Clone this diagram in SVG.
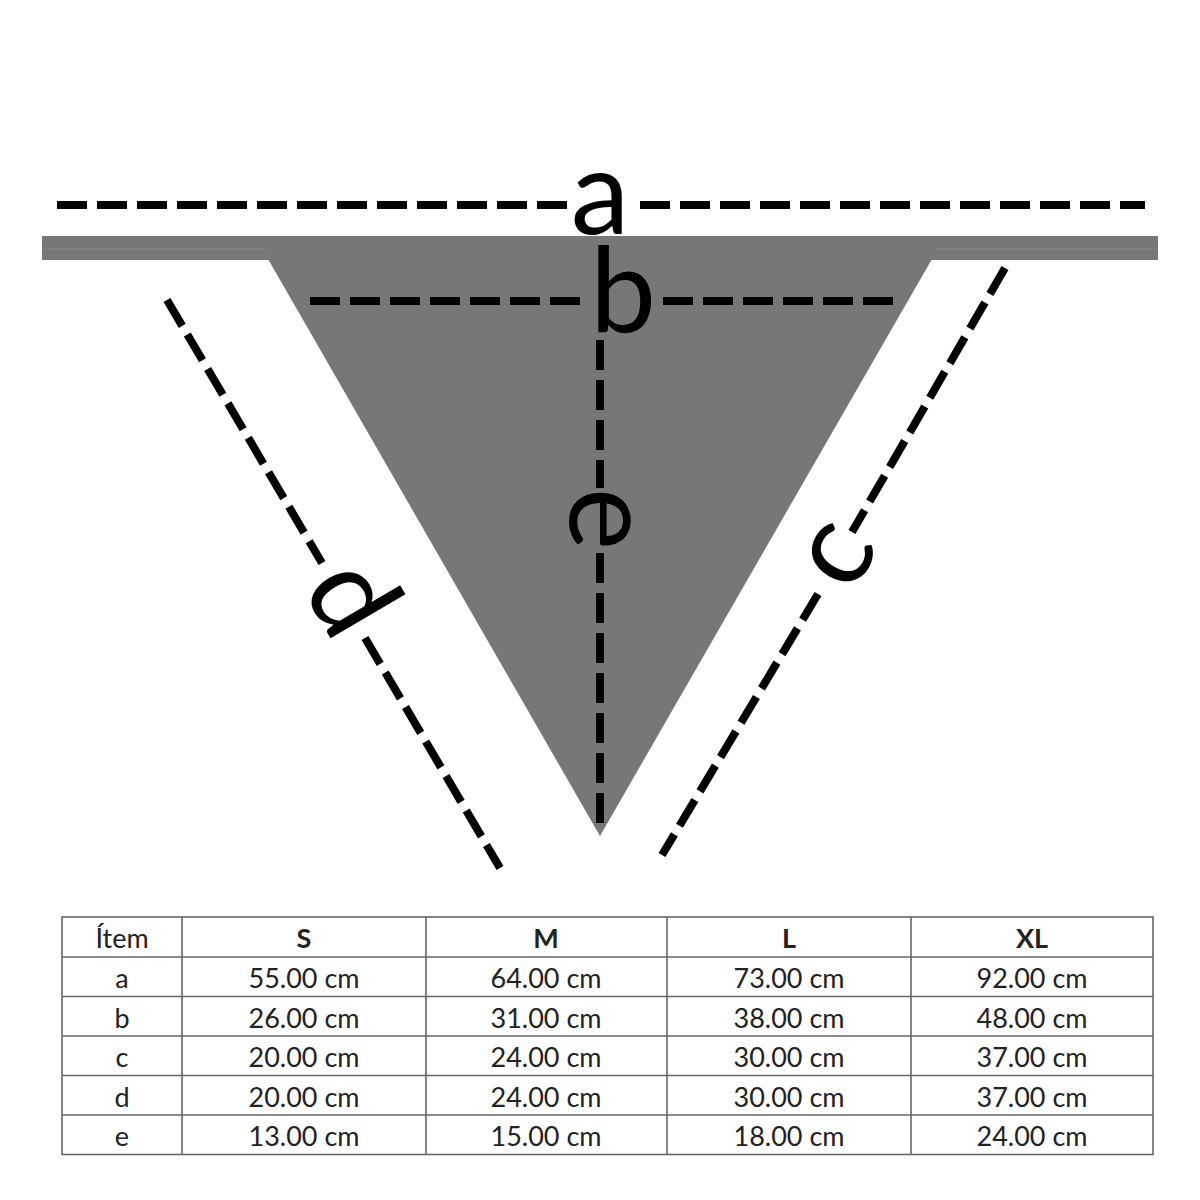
<svg xmlns="http://www.w3.org/2000/svg" width="1200" height="1200" viewBox="0 0 1200 1200">
<style>
.dash{stroke:#000;stroke-width:8;stroke-dasharray:30 10;fill:none}
.lbl{font-family:Lato,"Open Sans","DejaVu Sans",sans-serif;font-size:118px;fill:#000;text-anchor:middle}
.cell{font-family:Lato,"Open Sans","DejaVu Sans",sans-serif;font-size:27px;fill:#222;text-anchor:middle}
.hd{font-weight:bold}
.grid{stroke:#666;stroke-width:1.6;fill:none}
</style>
<rect width="1200" height="1200" fill="#fff"/>
<g id="garment">
<rect x="42" y="236" width="1116" height="24" fill="#777"/>
<polygon points="268,259 932,259 600,836" fill="#777"/>
<line x1="42" y1="249" x2="266" y2="249" stroke="#8a8a8a" stroke-width="1"/>
<line x1="936" y1="249" x2="1158" y2="249" stroke="#8a8a8a" stroke-width="1"/>
</g>
<g id="connectors">
<line class="dash" x1="57" y1="205" x2="567" y2="205"/>
<line class="dash" x1="640" y1="205" x2="1145" y2="205"/>
<line class="dash" x1="310" y1="301" x2="580" y2="301"/>
<line class="dash" x1="663" y1="301" x2="893" y2="301"/>
<line class="dash" x1="600" y1="340" x2="600" y2="488"/>
<line class="dash" x1="600" y1="553" x2="600" y2="830"/>
<line class="dash" x1="167" y1="300" x2="322" y2="563"/>
<line class="dash" x1="365" y1="638" x2="500" y2="868"/>
<line class="dash" x1="1005" y1="268" x2="852" y2="532"/>
<line class="dash" x1="818" y1="594" x2="662" y2="855"/>
</g>
<g id="label-a"><text class="lbl" x="600" y="234">a</text></g>
<g id="label-b"><text class="lbl" x="623" y="332">b</text></g>
<g id="label-e"><text class="lbl" transform="translate(570,519) rotate(90)">e</text></g>
<g id="label-d"><text class="lbl" transform="translate(318,617) rotate(59.56)">d</text></g>
<g id="label-c"><text class="lbl" transform="translate(866,571) rotate(-59.7)">c</text></g>
<g id="table">
<rect class="grid" x="62" y="917" width="1091" height="237.5"/>
<line class="grid" x1="62" y1="957" x2="1153" y2="957"/>
<line class="grid" x1="62" y1="996.5" x2="1153" y2="996.5"/>
<line class="grid" x1="62" y1="1036" x2="1153" y2="1036"/>
<line class="grid" x1="62" y1="1075.5" x2="1153" y2="1075.5"/>
<line class="grid" x1="62" y1="1115" x2="1153" y2="1115"/>
<line class="grid" x1="182" y1="917" x2="182" y2="1154.5"/>
<line class="grid" x1="426" y1="917" x2="426" y2="1154.5"/>
<line class="grid" x1="667" y1="917" x2="667" y2="1154.5"/>
<line class="grid" x1="911" y1="917" x2="911" y2="1154.5"/>
<text class="cell" x="122" y="948">Ítem</text>
<text class="cell hd" x="304" y="948">S</text>
<text class="cell hd" x="546" y="948">M</text>
<text class="cell hd" x="789" y="948">L</text>
<text class="cell hd" x="1032" y="948">XL</text>
<text class="cell" x="122" y="988">a</text>
<text class="cell" x="304" y="988">55.00 cm</text>
<text class="cell" x="546" y="988">64.00 cm</text>
<text class="cell" x="789" y="988">73.00 cm</text>
<text class="cell" x="1032" y="988">92.00 cm</text>
<text class="cell" x="122" y="1027.5">b</text>
<text class="cell" x="304" y="1027.5">26.00 cm</text>
<text class="cell" x="546" y="1027.5">31.00 cm</text>
<text class="cell" x="789" y="1027.5">38.00 cm</text>
<text class="cell" x="1032" y="1027.5">48.00 cm</text>
<text class="cell" x="122" y="1067">c</text>
<text class="cell" x="304" y="1067">20.00 cm</text>
<text class="cell" x="546" y="1067">24.00 cm</text>
<text class="cell" x="789" y="1067">30.00 cm</text>
<text class="cell" x="1032" y="1067">37.00 cm</text>
<text class="cell" x="122" y="1106.5">d</text>
<text class="cell" x="304" y="1106.5">20.00 cm</text>
<text class="cell" x="546" y="1106.5">24.00 cm</text>
<text class="cell" x="789" y="1106.5">30.00 cm</text>
<text class="cell" x="1032" y="1106.5">37.00 cm</text>
<text class="cell" x="122" y="1146">e</text>
<text class="cell" x="304" y="1146">13.00 cm</text>
<text class="cell" x="546" y="1146">15.00 cm</text>
<text class="cell" x="789" y="1146">18.00 cm</text>
<text class="cell" x="1032" y="1146">24.00 cm</text>
</g>
</svg>
